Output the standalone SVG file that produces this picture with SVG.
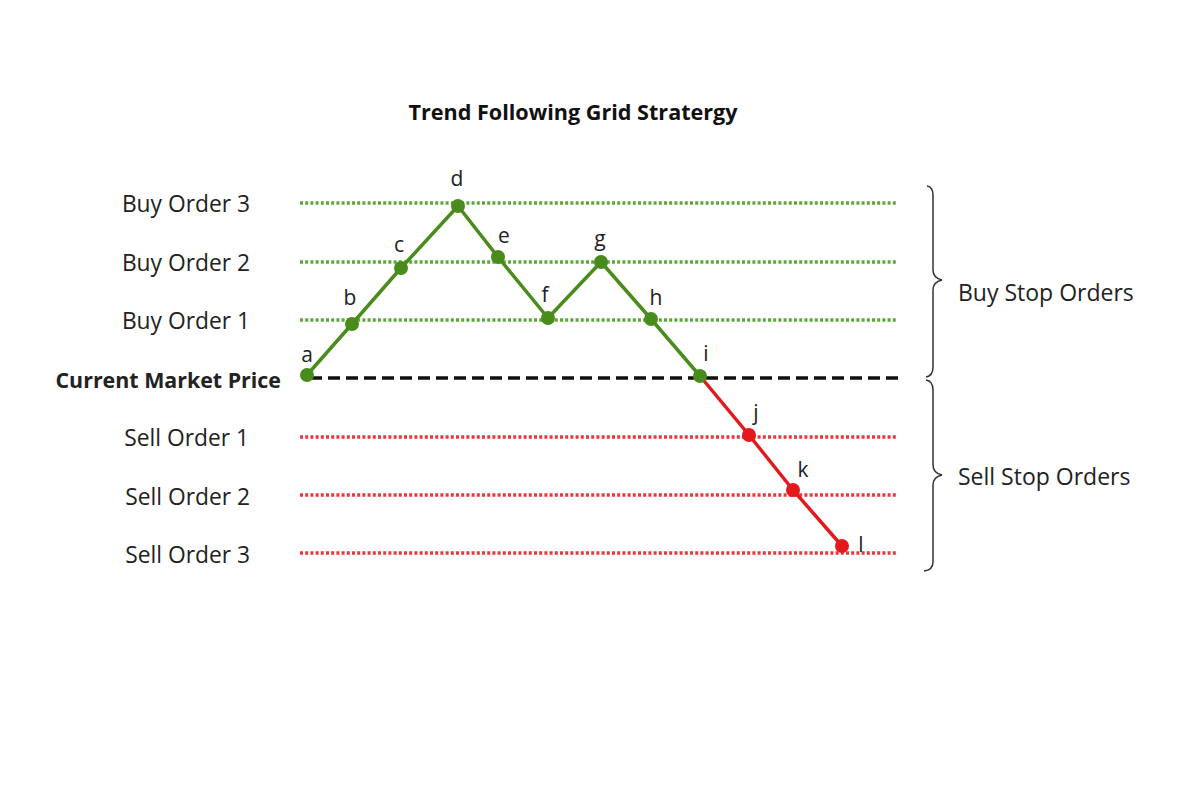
<svg xmlns="http://www.w3.org/2000/svg" width="1200" height="800" viewBox="0 0 1200 800">
<style>
.lbl{font-family:"Open Sans","Liberation Sans",sans-serif;font-size:22.8px;fill:#222}
.rl{font-family:"Open Sans","Liberation Sans",sans-serif;font-size:23px;fill:#222}
.pt{font-family:"Open Sans","Liberation Sans",sans-serif;font-size:21px;fill:#222;text-anchor:middle}
.gdot{stroke:#5ea83a;stroke-width:3.5;stroke-dasharray:3 2.2;fill:none}
.rdot{stroke:#e8383c;stroke-width:3.5;stroke-dasharray:3 2.2;fill:none}
.gline{stroke:#4a8c1c;stroke-width:3.5;fill:none;stroke-linejoin:round}
.rline{stroke:#e3191e;stroke-width:3.5;fill:none}
.gn{fill:#4a8c1c}
.rn{fill:#e3191e}
.brace{stroke:#333;stroke-width:1.5;fill:none}
</style>
<rect width="1200" height="800" fill="#fff"/>
<text x="573" y="120" text-anchor="middle" style="font-family:'Open Sans','Liberation Sans',sans-serif;font-size:21.6px;font-weight:bold;fill:#111">Trend Following Grid Stratergy</text>
<g id="levels">
<line class="gdot" x1="300" y1="203" x2="897" y2="203"/>
<line class="gdot" x1="300" y1="262" x2="897" y2="262"/>
<line class="gdot" x1="300" y1="320" x2="897" y2="320"/>
<line x1="310" y1="378" x2="900" y2="378" stroke="#111" stroke-width="3.5" stroke-dasharray="12 6"/>
<line class="rdot" x1="300" y1="437" x2="897" y2="437"/>
<line class="rdot" x1="300" y1="495" x2="897" y2="495"/>
<line class="rdot" x1="300" y1="553" x2="897" y2="553"/>
</g>
<g id="level-labels">
<text class="lbl" x="250" y="212" text-anchor="end">Buy Order 3</text>
<text class="lbl" x="250" y="271" text-anchor="end">Buy Order 2</text>
<text class="lbl" x="250" y="329" text-anchor="end">Buy Order 1</text>
<text class="lbl" x="281" y="388" text-anchor="end" style="font-weight:bold;font-size:21.4px">Current Market Price</text>
<text class="lbl" x="249" y="446" text-anchor="end">Sell Order 1</text>
<text class="lbl" x="250" y="505" text-anchor="end">Sell Order 2</text>
<text class="lbl" x="250" y="563" text-anchor="end">Sell Order 3</text>
</g>
<g id="connectors">
<polyline class="gline" points="307,375 352,324 401,268 458,206 498,257 548,318 601,262 651,319 700,376"/>
<polyline class="rline" points="700,376 749,435 793,490 842,546"/>
</g>
<g id="node-a"><circle class="gn" cx="307" cy="375" r="7"/><text class="pt" x="307" y="362">a</text></g>
<g id="node-b"><circle class="gn" cx="352" cy="324" r="7"/><text class="pt" x="350" y="305">b</text></g>
<g id="node-c"><circle class="gn" cx="401" cy="268" r="7"/><text class="pt" x="399" y="252">c</text></g>
<g id="node-d"><circle class="gn" cx="458" cy="206" r="7"/><text class="pt" x="457" y="186">d</text></g>
<g id="node-e"><circle class="gn" cx="498" cy="257" r="7"/><text class="pt" x="504" y="243">e</text></g>
<g id="node-f"><circle class="gn" cx="548" cy="318" r="7"/><text class="pt" x="545" y="302">f</text></g>
<g id="node-g"><circle class="gn" cx="601" cy="262" r="7"/><text class="pt" x="600" y="246">g</text></g>
<g id="node-h"><circle class="gn" cx="651" cy="319" r="7"/><text class="pt" x="656" y="305">h</text></g>
<g id="node-i"><circle class="gn" cx="700" cy="376" r="7"/><text class="pt" x="706" y="361">i</text></g>
<g id="node-j"><circle class="rn" cx="749" cy="435" r="7"/><text class="pt" x="756" y="420">j</text></g>
<g id="node-k"><circle class="rn" cx="793" cy="490" r="7"/><text class="pt" x="803" y="477">k</text></g>
<g id="node-l"><circle class="rn" cx="842" cy="546" r="7"/><text class="pt" x="861" y="552">l</text></g>
<g id="brace-buy">
<path class="brace" d="M927,186 Q933,187 933,195 L933,270 Q933,278 942,280 Q933,282 933,290 L933,367 Q933,376 926,377"/>
<text class="rl" x="958" y="301">Buy Stop Orders</text>
</g>
<g id="brace-sell">
<path class="brace" d="M926,380 Q933,381 933,390 L933,465 Q933,473 942,475 Q933,477 933,485 L933,562 Q933,570 924,571"/>
<text class="rl" x="958" y="485">Sell Stop Orders</text>
</g>
</svg>
